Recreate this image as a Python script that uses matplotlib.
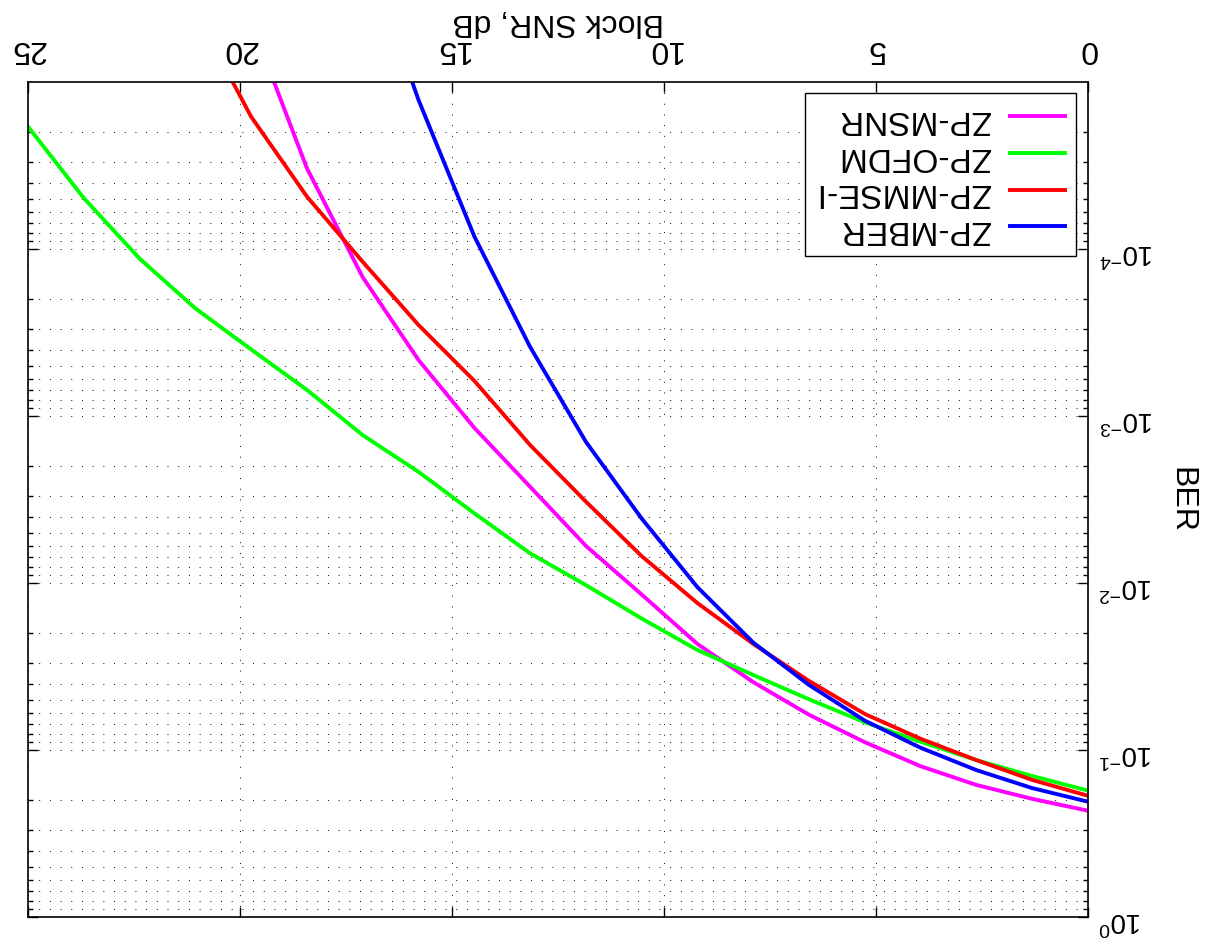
import numpy as np
import matplotlib
matplotlib.use('Agg')
import matplotlib.pyplot as plt
from matplotlib.ticker import LogLocator, NullFormatter

plt.rcParams['font.family'] = ['Liberation Sans', 'DejaVu Sans']
plt.rcParams['mathtext.fontset'] = 'custom'
plt.rcParams['mathtext.rm'] = 'Liberation Sans'
plt.rcParams['mathtext.it'] = 'Liberation Sans:italic'

# SNR grid (dB)
snr_db = [0.0, 1.32, 2.63, 3.95, 5.26, 6.58, 7.89, 9.21, 10.53, 11.84,
          13.16, 14.47, 15.79, 17.11, 18.42, 19.74, 21.05, 22.37, 23.68, 25.0]

# BER curves
ber_mber = [0.204, 0.169, 0.132, 0.0969, 0.0668, 0.0408, 0.0228, 0.0106,
            4.10e-3, 1.43e-3, 3.85e-4, 8.44e-5, 1.28e-5, 1.43e-6]
ber_mmse = [0.188, 0.151, 0.115, 0.0856, 0.0609, 0.0386, 0.0232, 0.0132,
            6.89e-3, 3.26e-3, 1.49e-3, 6.17e-4, 2.85e-4, 1.19e-4, 4.86e-5,
            1.61e-5, 3.81e-6]
ber_ofdm = [0.175, 0.143, 0.115, 0.0892, 0.0683, 0.0497, 0.0356, 0.0252,
            0.0163, 0.0103, 6.64e-3, 3.83e-3, 2.16e-3, 1.30e-3, 6.98e-4,
            3.99e-4, 2.27e-4, 1.14e-4, 4.97e-5, 1.85e-5]
ber_msnr = [0.231, 0.196, 0.162, 0.125, 0.0899, 0.0615, 0.0393, 0.0232,
            0.0117, 6.00e-3, 2.65e-3, 1.18e-3, 4.62e-4, 1.47e-4, 3.29e-5,
            4.37e-6]

labels = ['ZP-MSNR', 'ZP-OFDM', 'ZP-MMSE-I', 'ZP-MBER']
series = [ber_msnr, ber_ofdm, ber_mmse, ber_mber]
colors = ['#ff00ff', '#00ff00', '#ff0000', '#0000ff']

xticks = [0, 5, 10, 15, 20, 25]
yticks = [1e-4, 1e-3, 1e-2, 1e-1, 1e0]

fig = plt.figure(figsize=(12.05, 9.51), dpi=100)
ax = fig.add_axes([28 / 1205, 1 - 917 / 951, 1060 / 1205, 835 / 951])

handles = []
for ber, c in zip(series, colors):
    h, = ax.plot(snr_db[:len(ber)], ber, color=c, lw=2.8)
    handles.append(h)

ax.set_yscale('log')
# whole figure is shown upside down
ax.set_xlim(25, 0)
ax.set_ylim(1, 1e-5)
ax.set_xticks(xticks)
ax.set_yticks(yticks)
ax.yaxis.set_minor_locator(LogLocator(base=10, subs=np.arange(2, 10), numticks=20))
ax.yaxis.set_minor_formatter(NullFormatter())

ax.tick_params(which='both', direction='in', top=True, bottom=True,
               left=True, right=True, labeltop=True, labelbottom=False,
               labelleft=False, labelright=True, labelrotation=180, width=1)
ax.tick_params(which='major', length=7.5)
ax.tick_params(which='minor', length=3.8)
ax.tick_params(axis='x', pad=13, labelsize=23)
ax.tick_params(axis='y', pad=8, labelsize=20)

dots = (0, (1, 10))
ax.grid(True, which='major', axis='both', color='k', lw=0.7, linestyle=dots)
ax.grid(True, which='minor', axis='y', color='k', lw=0.7, linestyle=dots)

for s in ax.spines.values():
    s.set_linewidth(1.2)

ax.xaxis.set_label_position('top')
ax.set_xlabel('Block SNR, dB', fontsize=23, rotation=180, labelpad=3)
ax.yaxis.set_label_position('right')
ax.set_ylabel('BER', fontsize=23, rotation=270, labelpad=9)
ax.yaxis.label.set_va('bottom')

leg = ax.legend(handles, labels, loc='upper right',
                bbox_to_anchor=(0.9887, 0.9868), borderaxespad=0,
                markerfirst=False, fancybox=False, edgecolor='black',
                framealpha=1, fontsize=24, handlelength=1.65,
                labelspacing=0.17, handletextpad=0.6, borderpad=0.33)
leg.get_frame().set_linewidth(1.0)
for t in leg.get_texts():
    t.set_rotation(180)

fig.savefig('out.png', dpi=100)
